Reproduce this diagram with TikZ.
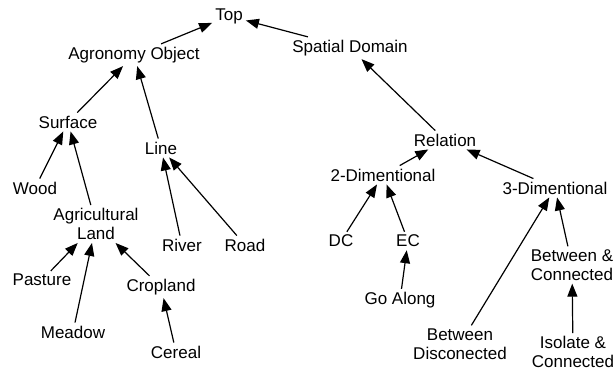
\documentclass[tikz,border=0pt]{standalone}
\usepackage{fontspec}
\setmainfont{Liberation Sans}
\usepackage{tikz}
\usetikzlibrary{arrows.meta,positioning}
\tikzstyle{concept} = [font=\fontsize{17}{19}\selectfont, align=center, inner sep=3pt]
\tikzstyle{arrow} = [line width=1.2pt,-{Triangle[length=13pt,width=10pt]}]

\begin{document}
\begin{tikzpicture}[x=1pt,y=1pt]
        \useasboundingbox (0,0) rectangle (615,-373);
        \node (top) [concept] at (229,-16) {Top};
        \node (agro) [concept, node distance=39pt, below of=top, xshift=-95pt] {Agronomy Object};
        \node (spat) [concept, node distance=32pt, below of=top, xshift=121pt] {Spatial Domain};
        \node (surf) [concept, node distance=67pt, below of=agro, xshift=-66pt] {Surface};
        \node (line) [concept, node distance=93pt, below of=agro, xshift=27pt] {Line};
        \node (wood) [concept, node distance=66pt, below of=surf, xshift=-33pt] {Wood};
        \node (agri) [concept, node distance=102pt, below of=surf, xshift=28pt] {Agricultural\\Land};
        \node (river) [concept, node distance=97pt, below of=line, xshift=21pt] {River};
        \node (road) [concept, node distance=97pt, below of=line, xshift=84pt] {Road};
        \node (past) [concept, node distance=56pt, below of=agri, xshift=-54pt] {Pasture};
        \node (crop) [concept, node distance=63pt, below of=agri, xshift=65pt] {Cropland};
        \node (mead) [concept, node distance=108pt, below of=agri, xshift=-23pt] {Meadow};
        \node (cere) [concept, node distance=65pt, below of=crop, xshift=15pt] {Cereal};
        \node (rel) [concept, node distance=92pt, below of=spat, xshift=95pt] {Relation};
        \node (dim2) [concept, node distance=35pt, below of=rel, xshift=-62pt] {2-Dimentional};
        \node (dim3) [concept, node distance=48pt, below of=rel, xshift=110pt] {3-Dimentional};
        \node (dc) [concept, node distance=66pt, below of=dim2, xshift=-42pt] {DC};
        \node (ec) [concept, node distance=66pt, below of=dim2, xshift=25pt] {EC};
        \node (go) [concept, node distance=59pt, below of=ec, xshift=-8pt] {Go Along};
        \node (betc) [concept, node distance=77pt, below of=dim3, xshift=17pt] {Between \&\\Connected};
        \node (betd) [concept, node distance=156pt, below of=dim3, xshift=-95pt] {Between\\Disconected};
        \node (isoc) [concept, node distance=87pt, below of=betc, xshift=1pt] {Isolate \&\\Connected};

        \draw [arrow] (agro) -- (top);
        \draw [arrow] (spat) -- (top);
        \draw [arrow] (surf) -- (agro);
        \draw [arrow] (line) -- (agro);
        \draw [arrow] (wood) -- (surf);
        \draw [arrow] (agri) -- (surf);
        \draw [arrow] (river) -- (line);
        \draw [arrow] (road) -- (line);
        \draw [arrow] (past) -- (agri);
        \draw [arrow] (mead) -- (agri);
        \draw [arrow] (crop) -- (agri);
        \draw [arrow] (cere) -- (crop);
        \draw [arrow] (rel) -- (spat);
        \draw [arrow] (dim2) -- (rel);
        \draw [arrow] (dim3) -- (rel);
        \draw [arrow] (dc) -- (dim2);
        \draw [arrow] (ec) -- (dim2);
        \draw [arrow] (go) -- (ec);
        \draw [arrow] (betd) -- (dim3);
        \draw [arrow] (betc) -- (dim3);
        \draw [arrow] (isoc) -- (betc);
    \end{tikzpicture}
\end{document}
